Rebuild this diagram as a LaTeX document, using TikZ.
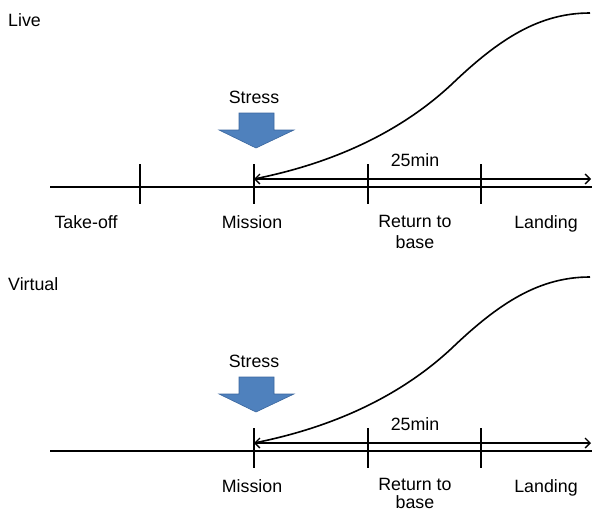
\documentclass[tikz,border=0pt]{standalone}
\usepackage{fontspec}
\setmainfont{Liberation Sans}
\usetikzlibrary{arrows.meta}
\begin{document}
\begin{tikzpicture}[x=1pt,y=-1pt,
  axisline/.style={line width=1.6pt,black},
  tickline/.style={line width=1.6pt,black},
  spanline/.style={line width=1.5pt,black,{Straight Barb[length=5pt,width=10pt,line width=1.3pt]}-{Straight Barb[length=5pt,width=10pt,line width=1.3pt]}},
  curveline/.style={line width=1.6pt,black},
  lbl/.style={font=\fontsize{17.8}{21}\selectfont,anchor=base,inner sep=0pt,align=center},
  ttl/.style={font=\fontsize{17.8}{21}\selectfont,anchor=base west,inner sep=0pt},
]
\useasboundingbox (0,0) rectangle (592,512);
\definecolor{arrowblue}{HTML}{4F81BD}
\definecolor{arrowedge}{HTML}{3B679E}

% ---------------- Live panel ----------------
\node[ttl] (tLive) at (8,26.5) {Live};
\coordinate (aL) at (50,187);
\coordinate (aR) at (592,187);
\draw[axisline] (aL) -- (aR);
\foreach \n/\x in {t1/140,t2/254,t3/368,t4/481}{
  \coordinate (\n a) at (\x,164);
  \coordinate (\n b) at (\x,204);
  \draw[tickline] (\n a) -- (\n b);
}
\coordinate (sL) at (254,179);
\coordinate (sR) at (591,179);
\draw[spanline] (sL) -- (sR);
\coordinate (cm) at (452,84);
\coordinate (ce) at (590,13);
\draw[curveline] (sL) .. controls (340,162) and (405,128) .. (cm) .. controls (500,38) and (540,13) .. (ce);
\node[lbl] (min1) at (415,166.5) {25min};
\node[lbl] (str1) at (254,103.5) {Stress};
\fill[arrowblue,draw=arrowedge,line width=0.6pt] (239,113) -- (274,113) -- (274,130) -- (294,130) -- (256,148) -- (219,130) -- (239,130) -- cycle;
\node[lbl] (lTake) at (86,228.5) {Take-off};
\node[lbl] (lMis1) at (252,228.5) {Mission};
\node[lbl,anchor=north] (lRet1) at (415,215) {Return to\\base};
\node[lbl] (lLand1) at (546,228.5) {Landing};

% ---------------- Virtual panel ----------------
\node[ttl] (tVirt) at (8,290.5) {Virtual};
\coordinate (bL) at (50,451);
\coordinate (bR) at (592,451);
\draw[axisline] (bL) -- (bR);
\foreach \n/\x in {u2/254,u3/368,u4/481}{
  \coordinate (\n a) at (\x,428);
  \coordinate (\n b) at (\x,468);
  \draw[tickline] (\n a) -- (\n b);
}
\coordinate (vL) at (254,443);
\coordinate (vR) at (591,443);
\draw[spanline] (vL) -- (vR);
\coordinate (dm) at (452,348);
\coordinate (de) at (590,277);
\draw[curveline] (vL) .. controls (340,426) and (405,392) .. (dm) .. controls (500,302) and (540,277) .. (de);
\node[lbl] (min2) at (415,430.5) {25min};
\node[lbl] (str2) at (254,367.5) {Stress};
\fill[arrowblue,draw=arrowedge,line width=0.6pt] (239,377) -- (274,377) -- (274,394) -- (294,394) -- (256,412) -- (219,394) -- (239,394) -- cycle;
\node[lbl] (lMis2) at (252,492.5) {Mission};
\node[lbl,anchor=north,font=\fontsize{17.8}{18}\selectfont] (lRet2) at (415,478) {Return to\\base};
\node[lbl] (lLand2) at (546,492.5) {Landing};
\end{tikzpicture}
\end{document}
